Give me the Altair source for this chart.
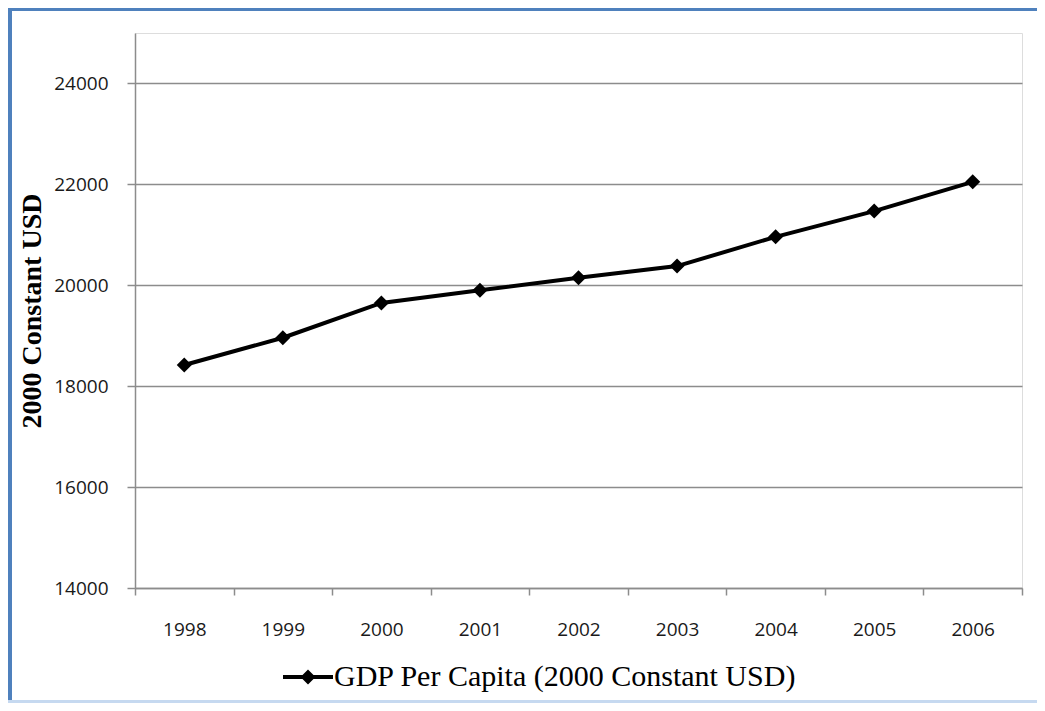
import altair as alt
import pandas as pd

years = ["1998", "1999", "2000", "2001", "2002", "2003", "2004", "2005", "2006"]
gdp = [18420, 18960, 19650, 19900, 20150, 20380, 20960, 21470, 22050]
series_name = "GDP Per Capita (2000 Constant USD)"
y_ticks = [14000, 16000, 18000, 20000, 22000, 24000]

df = pd.DataFrame({"year": years, "gdp": gdp, "series": [series_name] * len(years)})

GRAY = "#8c8c8c"
W, H = 887, 555

x_enc = alt.X(
    "year:O",
    scale=alt.Scale(paddingInner=0, paddingOuter=0),
    axis=alt.Axis(
        title=None, tickBand="extent", tickSize=7, tickColor=GRAY, tickWidth=1.5,
        domainColor=GRAY, domainWidth=1.5, labelAngle=0,
        labelFont="Open Sans", labelFontSize=19, labelColor="#1a1a1a",
        labelPadding=25, grid=False,
    ),
)
y_enc = alt.Y(
    "gdp:Q",
    scale=alt.Scale(domain=[14000, 25000], nice=False, zero=False),
    axis=alt.Axis(
        title="2000 Constant USD", values=y_ticks, format="d",
        titleFont="Liberation Serif", titleFontSize=28, titleFontWeight="bold",
        titleColor="black", titleX=-103, titleBaseline="middle",
        tickSize=8, tickColor=GRAY, tickWidth=1.5,
        domainColor=GRAY, domainWidth=1.5,
        labelFont="Open Sans", labelFontSize=19, labelColor="#1a1a1a", labelPadding=19,
        grid=True, gridColor=GRAY, gridWidth=1.5,
    ),
)

base = alt.Chart(df)
line = base.mark_line(color="black", strokeWidth=4).encode(x=x_enc, y=y_enc)

legend_path = "M-1,-0.08L1,-0.08L1,0.08L-1,0.08Z M0,-0.3L0.3,0L0,0.3L-0.3,0Z"
points = base.mark_point(shape="diamond", filled=True, size=225, opacity=1).encode(
    x=x_enc,
    y=y_enc,
    color=alt.Color(
        "series:N",
        scale=alt.Scale(range=["black"]),
        legend=alt.Legend(
            title=None, orient="none", legendX=148, legendY=619,
            symbolType=legend_path, symbolSize=2500, symbolStrokeWidth=0,
            labelFont="Liberation Serif", labelFontSize=30, labelColor="black",
            labelOffset=1, padding=0, labelLimit=800,
        ),
    ),
)

frame_data = alt.Data(values=[{"k": 1}])
left_border = alt.Chart(frame_data).mark_rect(color="#4f81bd", clip=False).encode(
    x=alt.value(-127), x2=alt.value(-123), y=alt.value(-25), y2=alt.value(670)
)
top_border = alt.Chart(frame_data).mark_rect(color="#4f81bd", clip=False).encode(
    x=alt.value(-127), x2=alt.value(W + 20), y=alt.value(-25), y2=alt.value(-22)
)
bottom_border = alt.Chart(frame_data).mark_rect(color="#c6d9f0", clip=False).encode(
    x=alt.value(-127), x2=alt.value(W + 20), y=alt.value(667), y2=alt.value(670)
)

chart = (
    alt.layer(line, points, left_border, top_border, bottom_border)
    .properties(
        width=W, height=H,
        autosize=alt.AutoSizeParams(type="none"),
        padding={"left": 127, "top": 25, "right": 15, "bottom": 115},
    )
    .configure_view(stroke=GRAY, strokeWidth=1.5)
    .configure(background="white")
)

chart.save("out.html", embed_options={"renderer": "svg", "actions": False})
